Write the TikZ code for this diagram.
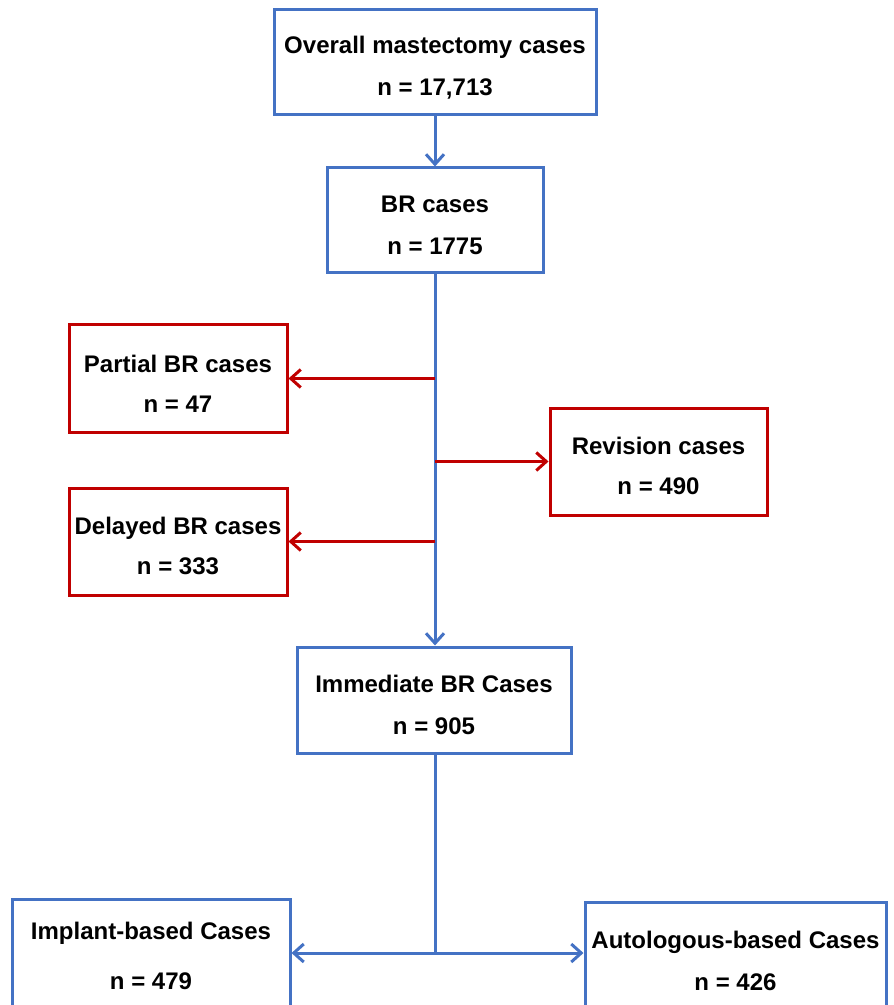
\documentclass[tikz,border=0pt]{standalone}
\usepackage{fontspec}
\setmainfont{Liberation Sans}
\usetikzlibrary{arrows.meta, positioning}
\definecolor{flowblue}{HTML}{4472C4}
\definecolor{flowred}{HTML}{C00000}
\newcommand{\lowgap}{\rule{0pt}{13.5pt}}

\begin{document}
\begin{tikzpicture}[x=0.5pt, y=-0.5pt,
    box/.style={align=center, inner sep=0pt, font=\bfseries\fontsize{12}{21}\selectfont},
    bluebox/.style={box, draw=flowblue, line width=1.5pt},
    redbox/.style={box, draw=flowred, line width=1.5pt, font=\bfseries\fontsize{12}{20}\selectfont},
    bluearrow/.style={draw=flowblue, line width=1.5pt, -{Straight Barb[length=5pt, width=9pt]}},
    redarrow/.style={draw=flowred, line width=1.5pt, -{Straight Barb[length=5pt, width=9pt]}}]
\clip (0,0) rectangle (893,1005);
\useasboundingbox (0,0) rectangle (893,1005);
% main boxes (blue)
\node[bluebox, minimum width=161pt, minimum height=52.5pt] (overall) at (435,62.5) {\lowgap Overall mastectomy cases\\n = 17,713};
\node[bluebox, minimum width=108pt, minimum height=52.5pt] (br) at (435,220.5) {\lowgap BR cases\\n = 1775};
\node[bluebox, minimum width=137pt, minimum height=53pt] (immediate) at (434,700) {\lowgap Immediate BR Cases\\n = 905};
% excluded cases (red)
\node[redbox, minimum width=109pt, minimum height=53.5pt] (partial) at (178,378.5) {\lowgap Partial BR cases\\n = 47};
\node[redbox, minimum width=108.5pt, minimum height=53.5pt] (revision) at (658.5,461.5) {\lowgap Revision cases\\n = 490};
\node[redbox, minimum width=109pt, minimum height=53.5pt] (delayed) at (178,541.5) {\lowgap Delayed BR cases\\n = 333};
% reconstruction type
\node[bluebox, minimum width=139pt, minimum height=57pt] (implant) at (151,956) {Implant-based Cases\\[4pt]n = 479};
\node[bluebox, minimum width=150.5pt, minimum height=58pt] (autologous) at (735.5,960.5) {Autologous-based Cases\\n = 426};
% connectors
\draw[bluearrow] (overall) -- (br);
\draw[bluearrow] (br) -- (br.south |- immediate.north);
\coordinate (jpartial) at (br.south |- partial.east);
\coordinate (jrevision) at (br.south |- revision.west);
\coordinate (jdelayed) at (br.south |- delayed.east);
\draw[redarrow] (jpartial) -- (partial);
\draw[redarrow] (jrevision) -- (revision);
\draw[redarrow] (jdelayed) -- (delayed);
\coordinate (split) at (435,953);
\draw[draw=flowblue, line width=1.5pt] (immediate.south -| split) -- (split);
\draw[bluearrow] (split) -- (split -| implant.east);
\draw[bluearrow] (split) -- (split -| autologous.west);
\end{tikzpicture}
\end{document}
